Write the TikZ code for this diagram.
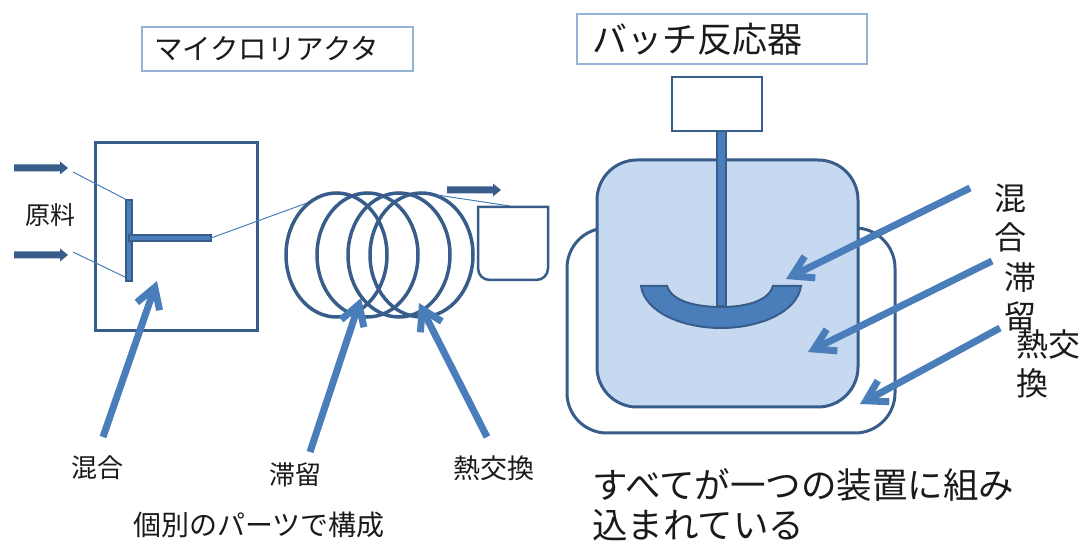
\documentclass[tikz,border=0pt]{standalone}
\usepackage{fontspec}
\setmainfont{Noto Sans CJK JP}
\usetikzlibrary{arrows.meta}

\definecolor{edgeblue}{HTML}{385D8A}
\definecolor{midblue}{HTML}{4A7EBB}
\definecolor{paleblue}{HTML}{C6D9F1}
\definecolor{titleblue}{HTML}{95B3D7}
\definecolor{inktext}{HTML}{1A1A1A}

\tikzset{
  titlebox/.style={draw=titleblue, line width=1.5pt, fill=white, align=left, text=inktext},
  outline/.style={draw=edgeblue, line width=3pt},
  coil/.style={draw=edgeblue, line width=3.5pt},
  thinline/.style={draw=midblue, line width=1pt},
  bigarrow/.style={draw=midblue, line width=7pt, -{Straight Barb[length=20pt,width=24pt]}},
  label/.style={inner sep=0pt, text=inktext, font=\fontsize{26}{30}\selectfont},
  biglabel/.style={inner sep=0pt, text=inktext, font=\fontsize{32}{39}\selectfont},
  feedarrow/.pic={
    \fill[edgeblue] (0,-3.5) -- (46,-3.5) -- (46,-6.5) -- (54,0) -- (46,6.5)
      -- (46,3.5) -- (0,3.5) -- cycle;}
}

\begin{document}
\begin{tikzpicture}[x=1pt,y=-1pt]
\useasboundingbox (0,0) rectangle (1088,545);

% ---------- titles ----------
\node[titlebox, minimum width=271pt, minimum height=44pt, inner xsep=12pt,
      text width=247pt, font=\fontsize{28.5}{30}\selectfont] (mrTitle) at (277.5,49) {マイクロリアクタ};
\node[titlebox, minimum width=290pt, minimum height=50pt, inner xsep=15pt,
      text width=260pt, font=\fontsize{35}{38}\selectfont] (brTitle) at (722,39) {バッチ反応器};

% ---------- micro reactor: mixer block ----------
\node[outline, minimum width=162pt, minimum height=188pt, inner sep=0pt] (mixBox) at (176,237) {};
\pic at (14,168) {feedarrow};
\pic at (14,255) {feedarrow};
\node[label, font=\fontsize{25}{30}\selectfont] (feedLabel) at (50,215) {原料};

\coordinate (feedA) at (73,172);
\coordinate (feedB) at (73,252);
\coordinate (tTop) at (127,200);
\coordinate (tBot) at (127,278);
\coordinate (tOut) at (211,238);
\draw[thinline] (feedA) -- (tTop);
\draw[thinline] (feedB) -- (tBot);

% T-piece
\draw[fill=midblue, draw=edgeblue, line width=1.2pt] (126,200) rectangle (132,281);
\draw[fill=midblue, draw=edgeblue, line width=1.2pt] (129,235) rectangle (211,241);

% ---------- residence coil ----------
\coordinate (coilIn) at (307,203);
\coordinate (coilOut) at (437,195);
\draw[thinline] (tOut) -- (coilIn);
\draw[coil] (336.5,255) ellipse [x radius=50.5pt, y radius=62pt];
\draw[coil] (367.5,255) ellipse [x radius=50.5pt, y radius=62pt];
\draw[coil] (399,255) ellipse [x radius=51pt, y radius=62pt];
\draw[coil] (421.5,255) ellipse [x radius=51.5pt, y radius=62pt];

% ---------- product cup ----------
\coordinate (cupRim) at (510,206);
\draw[thinline] (coilOut) -- (cupRim);
\pic at (447,190) {feedarrow};
\draw[outline, line width=2.5pt, fill=white] (478,207) -- (478,268)
  .. controls (478,275) and (483,280) .. (490,280) -- (536,280)
  .. controls (543,280) and (548,275) .. (548,268) -- (548,207) -- cycle;

% ---------- micro reactor labels and pointers ----------
\node[label] (mixLabel) at (97,468) {混合};
\node[label] (resLabel) at (295,475) {滞留};
\node[label, font=\fontsize{27}{30}\selectfont] (heatLabel) at (494,468) {熱交換};
\coordinate (mixTail) at (103,437);
\coordinate (mixTip) at (157,281);
\coordinate (resTail) at (310,452);
\coordinate (resTip) at (361,298);
\coordinate (heatTail) at (487,437);
\coordinate (heatTip) at (419,303);
\draw[bigarrow] (mixTail) -- (mixTip);
\draw[bigarrow] (resTail) -- (resTip);
\draw[bigarrow] (heatTail) -- (heatTip);
\node[label, font=\fontsize{28}{30}\selectfont] (partsNote) at (259,525) {個別のパーツで構成};

% ---------- batch reactor ----------
\draw[outline, fill=white, rounded corners=40pt] (567,228) rectangle (895,433);
\draw[outline, fill=paleblue, rounded corners=40pt] (597,160) rectangle (858,407);
\node[outline, line width=2.5pt, fill=white, minimum width=90pt, minimum height=54pt,
      inner sep=0pt] (motor) at (717,104) {};
\draw[fill=midblue, draw=edgeblue, line width=1.2pt] (717,131) rectangle (726,306);
\draw[fill=midblue, draw=edgeblue, line width=2pt]
  (641,286) -- (667,286)
  .. controls (672,302) and (698,307) .. (721,307)
  .. controls (744,307) and (768,302) .. (773,286)
  -- (801,286)
  .. controls (797,313) and (758,328) .. (721,328)
  .. controls (684,328) and (645,313) .. (641,286) -- cycle;

% batch labels and pointers
\node[biglabel, align=center] (bMixLabel) at (1010,218.5) {混\\合};
\node[biglabel, align=center] (bResLabel) at (1020,297) {滞\\留};
\node[biglabel, align=left, anchor=west] (bHeatLabel) at (1016,364) {熱交\\換};
\coordinate (bMixTail) at (970,188);
\coordinate (bMixTip) at (786,279);
\coordinate (bResTail) at (992,261);
\coordinate (bResTip) at (808,352);
\coordinate (bHeatTail) at (1000,328);
\coordinate (bHeatTip) at (860,404);
\draw[bigarrow] (bMixTail) -- (bMixTip);
\draw[bigarrow] (bResTail) -- (bResTip);
\draw[bigarrow] (bHeatTail) -- (bHeatTip);

\node[inner sep=0pt, text=inktext, font=\fontsize{35.5}{40}\selectfont,
      align=left, anchor=west] (batchNote) at (592,505)
  {すべてが一つの装置に組み\\込まれている};
\end{tikzpicture}
\end{document}
